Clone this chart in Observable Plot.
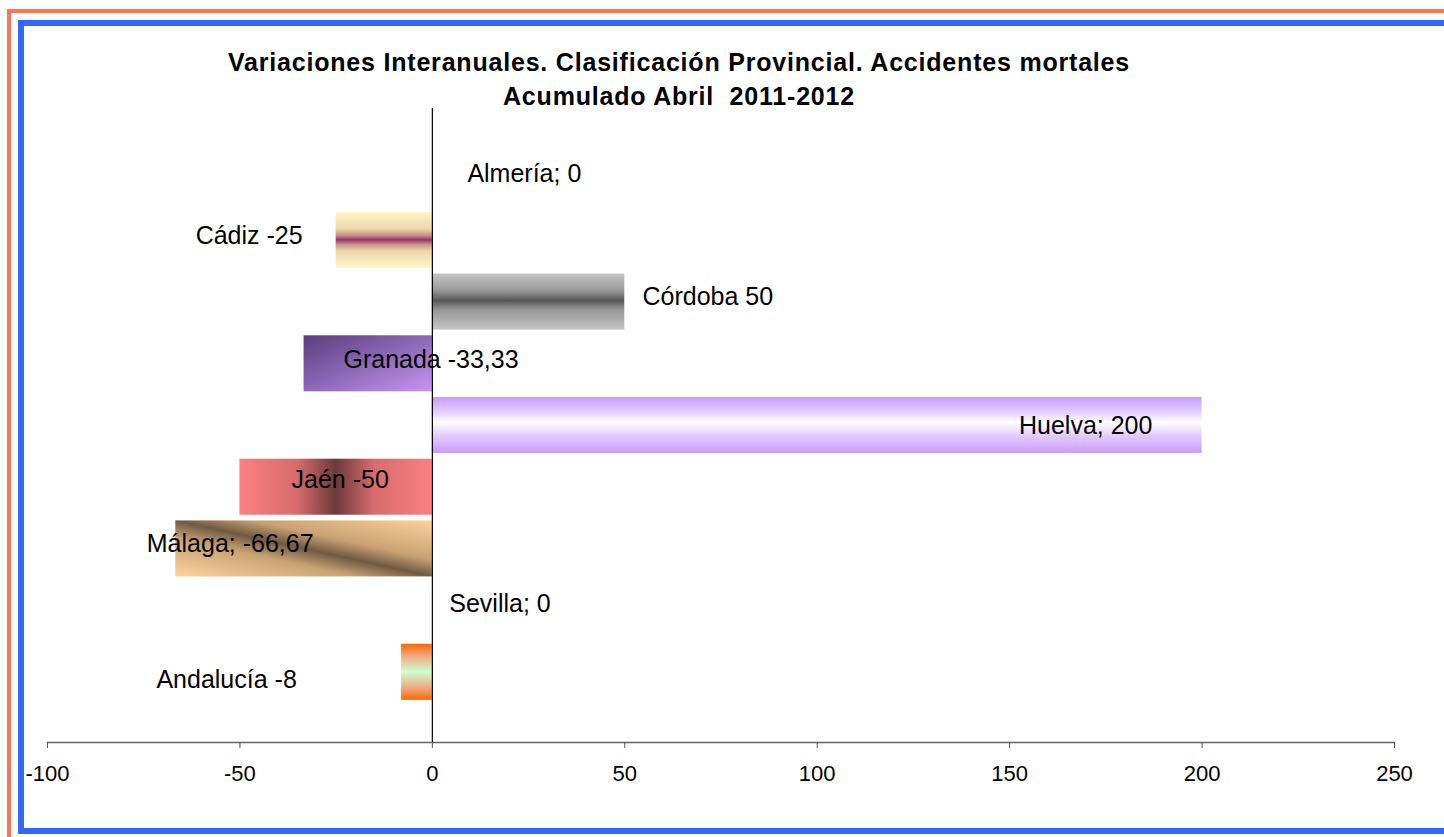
<!DOCTYPE html>
<html><head><meta charset="utf-8">
<script src="https://cdn.jsdelivr.net/npm/d3@7"></script>
<script src="https://cdn.jsdelivr.net/npm/@observablehq/plot@0.6"></script>
<style>
html,body{margin:0;padding:0;background:#fff;overflow:hidden;width:1444px;height:837px;}
#wrap{position:relative;width:1444px;height:837px;overflow:hidden;font-family:"Liberation Sans",Arial,sans-serif;}
#chart{position:absolute;left:0;top:0;}
.orange{position:absolute;left:7px;top:9px;width:3000px;height:3000px;border-left:4.5px solid #ff7452;border-top:4.5px solid #ff7452;z-index:2;}
.blue{position:absolute;left:18px;top:20px;width:3000px;height:802px;border:6.5px solid #3366ff;z-index:2;}
#title{position:absolute;left:0;width:1358px;top:45px;text-align:center;font-weight:bold;font-size:25px;letter-spacing:0.8px;line-height:34px;color:#000;z-index:3;}
</style>
</head><body>
<div id="wrap">
  <div id="chart"></div>
  <div class="orange"></div>
  <div class="blue"></div>
  <div id="title">Variaciones Interanuales. Clasificación Provincial. Accidentes mortales<br>Acumulado Abril&nbsp; 2011-2012</div>
</div>
<script>
// ---- data ----
const provincias = ["Almería","Cádiz","Córdoba","Granada","Huelva","Jaén","Málaga","Sevilla","Andalucía"];
const variacion  = [0, -25, 50, -33.33, 200, -50, -66.67, 0, -8];
const etiquetas  = ["Almería; 0","Cádiz -25","Córdoba 50","Granada -33,33","Huelva; 200","Jaén -50","Málaga; -66,67","Sevilla; 0","Andalucía -8"];
const xTicks     = [-100, -50, 0, 50, 100, 150, 200, 250];
// label anchor positions (in data units along x) as placed in the original chart
const labelAt    = [9.1, -33.7, 54.6, -23.1, 187.1, -36.6, -74.2, 4.4, -71.7];

// ---- style / layout ----
const labelAnchor = ["start","end","start","start","end","start","start","start","start"];
const labelDy     = [-5, -4, -5, -4, 0, -7, -5, -7, 8];
const gradIds     = ["gAlm","gCad","gCor","gGra","gHue","gJae","gMal","gSev","gAnd"];

const data = provincias.map((p, i) => ({p, v: variacion[i], fill: `url(#${gradIds[i]})`}));

const labelMarks = etiquetas.map((t, i) => Plot.text([i], {
  x: d => labelAt[d], y: d => provincias[d], text: d => etiquetas[d],
  textAnchor: labelAnchor[i], dy: labelDy[i], fontSize: 25, fill: "#000"
}));

const chart = Plot.plot({
  width: 1444, height: 837,
  marginLeft: 47, marginRight: 50, marginTop: 108, marginBottom: 95,
  style: {background: "transparent", fontFamily: "'Liberation Sans', Arial, sans-serif", color: "#000"},
  x: {domain: [-100, 250], axis: null},
  y: {type: "band", domain: provincias, paddingInner: 0.092, paddingOuter: 0.683, round: false, axis: null},
  color: {type: "identity"},
  marks: [
    Plot.barX(data, {x: "v", y: "p", fill: "fill"}),
    Plot.frame({anchor: "bottom", stroke: "#666", strokeWidth: 1.5}),
    Plot.ruleX([0], {stroke: "#000", strokeWidth: 1.2}),
    Plot.axisX({ticks: xTicks, tickSize: 6, tickPadding: 17, fontSize: 22, stroke: "#555", fill: "#000",
                label: null, tickFormat: d => String(d)}),
    ...labelMarks
  ]
});

const svg = d3.select(chart);
const defs = svg.insert("defs", ":first-child");
function grad(id, stops, x1=0, y1=0, x2=0, y2=1) {
  const g = defs.append("linearGradient").attr("id", id)
    .attr("x1", x1).attr("y1", y1).attr("x2", x2).attr("y2", y2);
  stops.forEach(([o, c]) => g.append("stop").attr("offset", o).attr("stop-color", c));
}
grad("gAlm", [[0, "#ccccff"], [1, "#ccccff"]]);
grad("gSev", [[0, "#ccccff"], [1, "#ccccff"]]);
grad("gCad", [[0, "#fcf8c8"], [0.3, "#ecd7ab"], [0.42, "#c8928a"], [0.5, "#993366"], [0.58, "#c8928a"], [0.7, "#ecd7ab"], [1, "#fcf8c8"]]);
grad("gCor", [[0, "#c4c4c4"], [0.3, "#9a9a9a"], [0.48, "#575757"], [0.66, "#9a9a9a"], [1, "#c4c4c4"]]);
grad("gGra", [[0, "#5a3e7c"], [0.5, "#8d68b8"], [1, "#c994f2"]], 0, 0, 1, 1);
grad("gHue", [[0, "#c99cfa"], [0.25, "#e2caff"], [0.45, "#ffffff"], [0.7, "#e2caff"], [1, "#c99cfa"]]);
grad("gJae", [[0, "#fa8080"], [0.3, "#d86c6c"], [0.5, "#6b3a3c"], [0.7, "#d86c6c"], [1, "#fa8080"]], 0, 0, 1, 0);
grad("gMal", [[0, "#fdd29c"], [0.35, "#c9a274"], [0.5, "#6e5a42"], [0.65, "#c9a274"], [1, "#fdd29c"]], 0, 1, 1, 0);
grad("gAnd", [[0, "#ff6600"], [0.2, "#f2a47a"], [0.5, "#ccffcc"], [0.8, "#f2a47a"], [1, "#ff6600"]]);

document.getElementById("chart").appendChild(chart);
</script>
</body></html>
